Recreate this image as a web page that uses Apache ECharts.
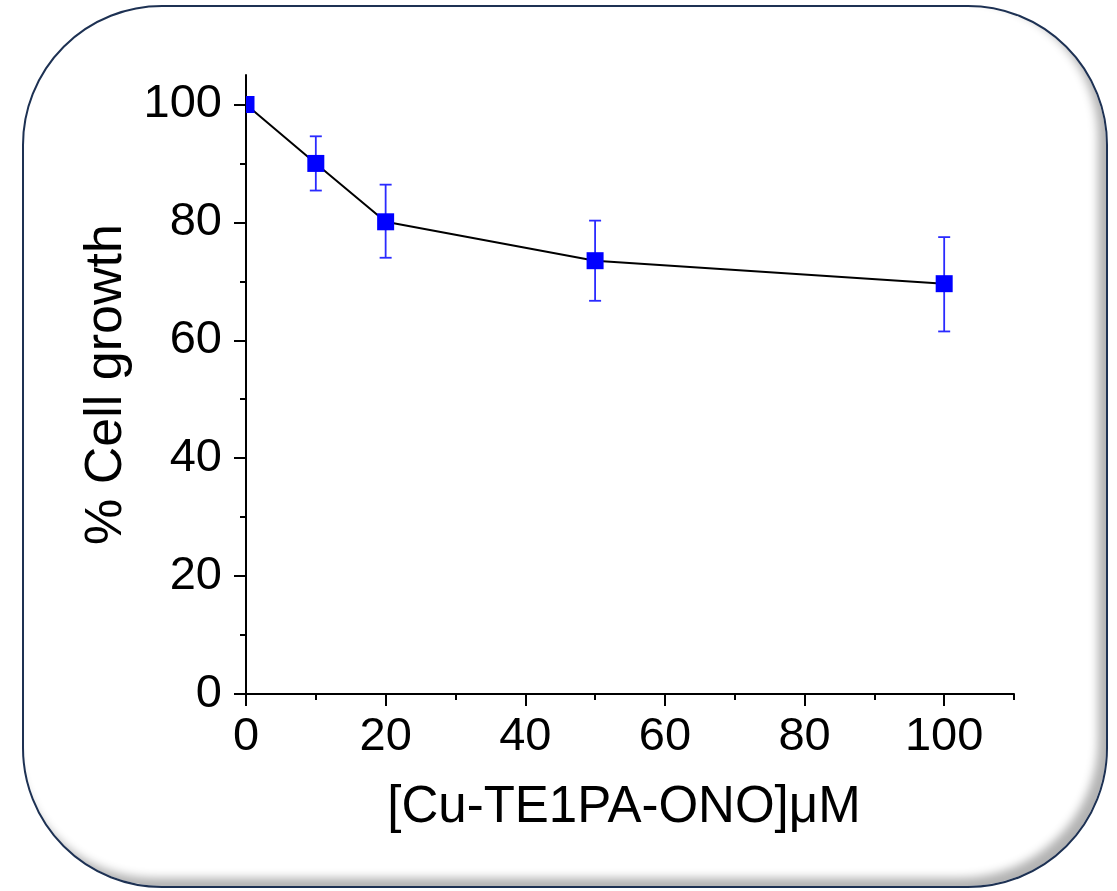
<!DOCTYPE html>
<html>
<head>
<meta charset="utf-8">
<script src="https://cdn.jsdelivr.net/npm/echarts@6/dist/echarts.min.js"></script>
<style>
  html, body { margin: 0; padding: 0; background: #fff; }
  #frame {
    position: absolute; left: 22px; top: 5px; width: 1082px; height: 879px;
    border: 2px solid #1d3153; border-radius: 140px;
    box-shadow: inset -8px -8px 10px rgba(0,0,0,0.3);
  }
  #main { position: absolute; left: 0; top: 0; width: 1117px; height: 891px; }
</style>
</head>
<body>
<div id="frame"></div>
<div id="main"></div>
<script>
var chartDom = document.getElementById('main');
var myChart = echarts.init(chartDom);

// concentration (µM) and % growth
const doses = [0, 10, 20, 50, 100];
const growth = [100, 90.0, 80.1, 73.5, 69.6];
const errLow = [100, 85.4, 74.0, 66.7, 61.5];
const errHigh = [100, 94.6, 86.4, 80.3, 77.5];

const xMajor = [0, 20, 40, 60, 80, 100];
const xMinor = [10, 30, 50, 70, 90, 110];
const yMajor = [0, 20, 40, 60, 80, 100];
const yMinor = [10, 30, 50, 70, 90];

const FONT = "'Liberation Sans', Arial, sans-serif";
const barColor = '#2a2aff';
const markColor = '#0000ff';

function renderErrorBar(params, api) {
  const x = api.value(0);
  const lo = api.coord([x, api.value(1)]);
  const hi = api.coord([x, api.value(2)]);
  if (api.value(1) === api.value(2)) return null;
  const half = 6;
  const style = { stroke: barColor, lineWidth: 1.8 };
  return {
    type: 'group',
    children: [
      { type: 'line', shape: { x1: lo[0], y1: lo[1], x2: hi[0], y2: hi[1] }, style: style },
      { type: 'line', shape: { x1: lo[0] - half, y1: lo[1], x2: lo[0] + half, y2: lo[1] }, style: style },
      { type: 'line', shape: { x1: hi[0] - half, y1: hi[1], x2: hi[0] + half, y2: hi[1] }, style: style }
    ]
  };
}

function renderMarker(params, api) {
  const c = api.coord([api.value(0), api.value(1)]);
  const s = 17;
  return {
    type: 'rect',
    shape: { x: c[0] - s / 2, y: c[1] - s / 2, width: s, height: s },
    style: { fill: markColor }
  };
}

const axisLine = { show: true, onZero: false, lineStyle: { color: '#000', width: 2 } };

option = {
  animation: false,
  backgroundColor: 'transparent',
  textStyle: { fontFamily: FONT, color: '#000' },
  grid: { left: 246, right: 103, top: 75, bottom: 197 },
  xAxis: [
    {
      type: 'value', min: 0, max: 110, position: 'bottom',
      axisLine: axisLine,
      axisTick: { show: true, length: 12, lineStyle: { color: '#000', width: 2 }, customValues: xMajor },
      axisLabel: { fontSize: 47, color: '#000', fontFamily: FONT, margin: 20, customValues: xMajor },
      splitLine: { show: false },
      name: '[Cu-TE1PA-ONO]μM',
      nameLocation: 'middle',
      nameGap: 88,
      nameTextStyle: { fontSize: 51, color: '#000', fontFamily: FONT, padding: [0, 12, 0, 0] }
    },
    {
      type: 'value', min: 0, max: 110, position: 'bottom',
      axisLine: { show: false },
      axisTick: { show: true, length: 6, lineStyle: { color: '#000', width: 2 }, customValues: xMinor },
      axisLabel: { show: false },
      splitLine: { show: false }
    }
  ],
  yAxis: [
    {
      type: 'value', min: 0, max: 105, position: 'left',
      axisLine: axisLine,
      axisTick: { show: true, length: 12, lineStyle: { color: '#000', width: 2 }, customValues: yMajor },
      axisLabel: { fontSize: 47, color: '#000', fontFamily: FONT, margin: 24, customValues: yMajor },
      splitLine: { show: false },
      name: '% Cell growth',
      nameLocation: 'middle',
      nameGap: 104,
      nameTextStyle: { fontSize: 52, color: '#000', fontFamily: FONT }
    },
    {
      type: 'value', min: 0, max: 105, position: 'left',
      axisLine: { show: false },
      axisTick: { show: true, length: 6, lineStyle: { color: '#000', width: 2 }, customValues: yMinor },
      axisLabel: { show: false },
      splitLine: { show: false }
    }
  ],
  series: [
    {
      name: 'growth',
      type: 'line',
      data: doses.map((d, i) => [d, growth[i]]),
      showSymbol: false,
      lineStyle: { color: '#000', width: 2 },
      z: 2
    },
    {
      name: 'error',
      type: 'custom',
      renderItem: renderErrorBar,
      data: doses.map((d, i) => [d, errLow[i], errHigh[i]]),
      clip: true,
      z: 3
    },
    {
      name: 'points',
      type: 'custom',
      renderItem: renderMarker,
      data: doses.map((d, i) => [d, growth[i]]),
      clip: true,
      z: 4
    }
  ]
};

option && myChart.setOption(option);
</script>
</body>
</html>
